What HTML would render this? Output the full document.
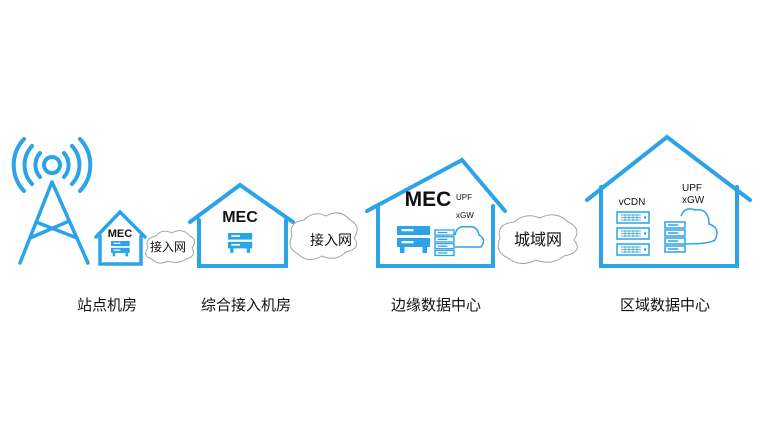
<!DOCTYPE html>
<html><head><meta charset="utf-8"><style>
html,body{margin:0;padding:0;background:#fff;}
svg{display:block}
text{font-family:"Liberation Sans","Noto Sans CJK SC",sans-serif;fill:#111}
</style></head><body>
<svg width="768" height="432" viewBox="0 0 768 432" xmlns="http://www.w3.org/2000/svg">
<defs>
<g id="srv">
<rect x="0" y="0" width="22" height="6" fill="#2aa3e8"/>
<rect x="0" y="8" width="22" height="6" fill="#2aa3e8"/>
<rect x="2" y="14" width="3" height="4" fill="#2aa3e8"/><rect x="17" y="14" width="3" height="4" fill="#2aa3e8"/>
<rect x="3" y="2" width="8" height="1.5" fill="#fff"/><rect x="3" y="10" width="8" height="1.5" fill="#fff"/>
</g>
<g id="rack">
<rect x="0" y="0" width="20" height="6" fill="none" stroke="#2aa3e8" stroke-width="1.5"/>
<rect x="0" y="8" width="20" height="6" fill="none" stroke="#2aa3e8" stroke-width="1.5"/>
<rect x="0" y="16" width="20" height="6" fill="none" stroke="#2aa3e8" stroke-width="1.5"/>
<rect x="0" y="24" width="20" height="6" fill="none" stroke="#2aa3e8" stroke-width="1.5"/>
<line x1="3" y1="3" x2="13" y2="3" stroke="#2aa3e8" stroke-width="1.5"/><line x1="3" y1="11" x2="13" y2="11" stroke="#2aa3e8" stroke-width="1.5"/>
<line x1="3" y1="19" x2="13" y2="19" stroke="#2aa3e8" stroke-width="1.5"/><line x1="3" y1="27" x2="13" y2="27" stroke="#2aa3e8" stroke-width="1.5"/>
</g>
<g id="vrack">
<rect x="0" y="0" width="32" height="11" fill="none" stroke="#2aa3e8" stroke-width="1.5"/>
<path d="M4 3h20M4 5.5h20M4 8h20M8 2v7M12 2v7M16 2v7M20 2v7" stroke="#2aa3e8" stroke-width="0.8"/>
<circle cx="28" cy="5.5" r="1.2" fill="#2aa3e8"/>
</g>
</defs>
<g fill="none" stroke="#2aa3e8" stroke-width="4" stroke-linejoin="miter" stroke-linecap="round">
<circle cx="52" cy="165" r="8" stroke-width="4"/>
<path d="M40 177 A18 18 0 0 1 40 153 M64 153 A18 18 0 0 1 64 177"/>
<path d="M32 184 A28 28 0 0 1 32 146 M72 146 A28 28 0 0 1 72 184"/>
<path d="M24 191 A38 38 0 0 1 24 139 M80 139 A38 38 0 0 1 80 191"/>
<path d="M52 182 L20 263 M52 182 L88 263 M36 222 L77 238 M67 222 L30 238" stroke-width="3.5"/>
<path d="M96 237 L120 212 L145 237 M100 236 V264 H141 V236" stroke-width="3.5"/>
<path d="M190 222 L240 185 L293 222 M199 220 V266 H286 V220"/>
<path d="M367 211 L462 160 L505 211 M378 206 V266 H493 V206"/>
<path d="M587 200 L667 137 L750 200 M601 187 V266 H737 V187"/>
</g>
<g fill="#fff" stroke="#9aa" stroke-width="1">
<path d="M148 248 q-4 -10 8 -12 q6 -8 16 -3 q10 -6 18 3 q8 4 2 12 q5 8 -6 11 q-8 6 -18 2 q-10 5 -16 -2 q-10 -3 -4 -11z"/>
<path d="M292 236 q-4 -14 12 -16 q10 -10 22 -4 q14 -8 24 4 q12 6 4 18 q8 10 -8 14 q-10 10 -24 4 q-14 8 -24 -2 q-12 -6 -6 -18z"/>
<path d="M500 238 q-4 -14 14 -16 q12 -10 26 -4 q16 -8 28 4 q14 6 6 18 q10 12 -10 16 q-12 10 -28 4 q-16 8 -28 -2 q-14 -6 -8 -20z"/>
</g>
<text x="168" y="251" font-size="12" text-anchor="middle">接入网</text>
<text x="331" y="245" font-size="14" text-anchor="middle">接入网</text>
<text x="538" y="245" font-size="16" text-anchor="middle">城域网</text>
<text x="120" y="237" font-size="11" font-weight="bold" text-anchor="middle">MEC</text>
<use href="#srv" transform="translate(111,241) scale(0.85)"/>
<text x="240" y="222" font-size="16" font-weight="bold" text-anchor="middle">MEC</text>
<use href="#srv" transform="translate(228,233) scale(1.1)"/>
<text x="428" y="206" font-size="21" font-weight="bold" text-anchor="middle">MEC</text>
<text x="456" y="200" font-size="8">UPF</text><text x="456" y="218" font-size="8">xGW</text>
<use href="#srv" transform="translate(397,226) scale(1.5)"/>
<use href="#rack" transform="translate(435,230) scale(0.95,0.85)"/>
<path d="M455 235 q2 -10 12 -8 q10 -2 12 8 q8 4 2 12 h-26" fill="none" stroke="#2aa3e8" stroke-width="1.5"/>
<text x="632" y="205" font-size="10" text-anchor="middle">vCDN</text>
<text x="682" y="191" font-size="10">UPF</text><text x="682" y="203" font-size="10">xGW</text>
<use href="#vrack" transform="translate(617,212)"/>
<use href="#vrack" transform="translate(617,228)"/>
<use href="#vrack" transform="translate(617,244)"/>
<use href="#rack" transform="translate(665,222)"/>
<path d="M681 216 q4 -10 14 -6 q14 -2 14 14 q12 4 6 16 q-6 4 -30 4" fill="none" stroke="#2aa3e8" stroke-width="1.5"/>
<g font-size="15" text-anchor="middle">
<text x="107" y="310">站点机房</text>
<text x="246" y="310">综合接入机房</text>
<text x="436" y="310">边缘数据中心</text>
<text x="665" y="310">区域数据中心</text>
</g>
</svg>
</body></html>
